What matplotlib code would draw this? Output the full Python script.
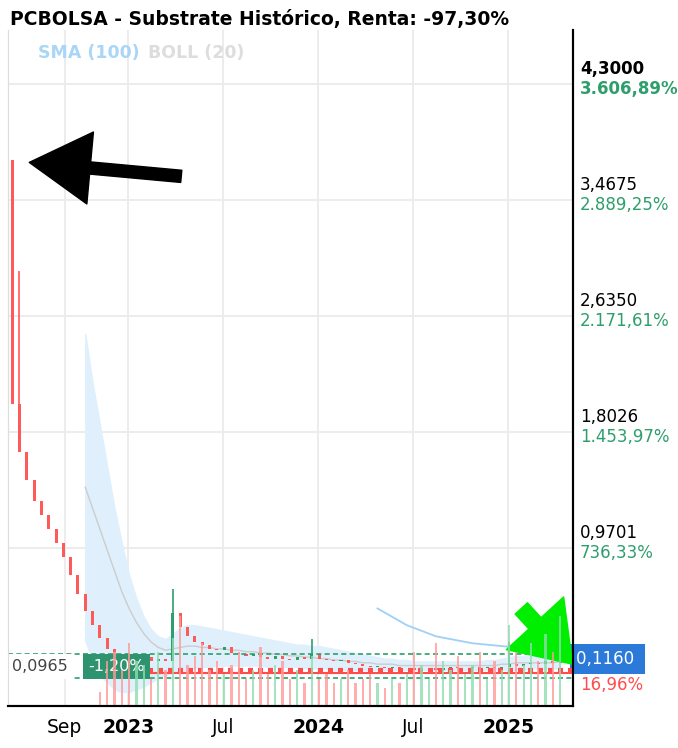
import numpy as np
import matplotlib.pyplot as plt
from matplotlib.transforms import blended_transform_factory

# biweekly candles, first open then closes
first_open = 3.70
closes = [1.95, 1.60, 1.40, 1.25, 1.15, 1.05, 0.95, 0.85, 0.72, 0.58,
          0.46, 0.36, 0.27, 0.19, 0.14, 0.11, 0.10, 0.11, 0.13, 0.10,
          0.12, 0.10, 0.45, 0.35, 0.28, 0.24, 0.22, 0.19, 0.18, 0.20,
          0.16, 0.15, 0.14, 0.15, 0.13, 0.12, 0.14, 0.12, 0.11, 0.13,
          0.12, 0.15, 0.12, 0.11, 0.10, 0.11, 0.09, 0.08, 0.07, 0.06,
          0.06, 0.05, 0.06, 0.05, 0.05, 0.04, 0.05, 0.05, 0.04, 0.05,
          0.06, 0.05, 0.05, 0.06, 0.05, 0.06, 0.05, 0.06, 0.08, 0.07,
          0.08, 0.09, 0.08, 0.10, 0.09, 0.116]
wick_highs = {0: 3.70, 1: 2.90, 22: 0.62, 41: 0.26, 68: 0.24, 75: 0.40}
volumes = [0, 0, 0, 0, 0, 0, 0, 0, 0, 0, 0, 0, 3, 10, 12, 8, 14, 10, 9, 6,
           12, 8, 15, 20, 9, 11, 14, 8, 10, 7, 9, 12, 6, 8, 13, 7, 9, 10,
           6, 8, 5, 11, 6, 7, 5, 6, 8, 5, 6, 7, 5, 4, 6, 5, 7, 12, 9, 6,
           14, 10, 8, 11, 7, 9, 12, 6, 10, 8, 18, 12, 9, 14, 10, 16, 12, 20]
boll_start = 10
boll_upper = [2.45, 2.10, 1.80, 1.50, 1.20, 0.95, 0.72, 0.55, 0.42, 0.33,
              0.28, 0.26, 0.30, 0.34, 0.36, 0.36, 0.35, 0.34, 0.33, 0.32,
              0.31, 0.30, 0.29, 0.28, 0.27, 0.26, 0.25, 0.24, 0.23, 0.22,
              0.22, 0.21, 0.21, 0.20, 0.19, 0.18, 0.17, 0.16, 0.15, 0.14,
              0.13, 0.12, 0.12, 0.11, 0.11, 0.10, 0.10, 0.10, 0.10, 0.10,
              0.10, 0.10, 0.10, 0.10, 0.10, 0.11, 0.11, 0.12, 0.13, 0.14,
              0.14, 0.14, 0.14, 0.14, 0.14, 0.15]
boll_lower = [0.25, 0.10, 0.00, -0.05, -0.10, -0.12, -0.12, -0.10, -0.08, -0.05,
              -0.02, 0.00, 0.02, 0.03, 0.04, 0.05, 0.06, 0.06, 0.07, 0.07,
              0.07, 0.07, 0.07, 0.07, 0.07, 0.06, 0.06, 0.06, 0.06, 0.06,
              0.05, 0.05, 0.05, 0.05, 0.04, 0.04, 0.04, 0.04, 0.04, 0.04,
              0.04, 0.04, 0.04, 0.04, 0.04, 0.04, 0.04, 0.04, 0.04, 0.04,
              0.04, 0.04, 0.04, 0.04, 0.04, 0.04, 0.04, 0.04, 0.04, 0.04,
              0.04, 0.05, 0.05, 0.05, 0.05, 0.05]
boll_mid = [1.35, 1.20, 1.05, 0.90, 0.75, 0.60, 0.48, 0.38, 0.30, 0.24,
            0.20, 0.18, 0.19, 0.20, 0.21, 0.21, 0.20, 0.20, 0.19, 0.19,
            0.18, 0.18, 0.17, 0.17, 0.16, 0.16, 0.15, 0.15, 0.14, 0.14,
            0.13, 0.13, 0.12, 0.12, 0.11, 0.11, 0.10, 0.10, 0.09, 0.09,
            0.08, 0.08, 0.08, 0.07, 0.07, 0.07, 0.07, 0.07, 0.07, 0.07,
            0.07, 0.07, 0.07, 0.07, 0.07, 0.07, 0.07, 0.08, 0.08, 0.09,
            0.09, 0.09, 0.09, 0.09, 0.09, 0.10]
sma_start = 50
sma = [0.48, 0.45, 0.42, 0.39, 0.36, 0.34, 0.32, 0.30, 0.28, 0.27, 0.26,
       0.25, 0.24, 0.23, 0.225, 0.22, 0.215, 0.21, 0.205, 0.20, 0.20,
       0.195, 0.195, 0.19, 0.19, 0.19]

price_ticks = [4.3000, 3.4675, 2.6350, 1.8026, 0.9701]
pct_labels = ['3.606,89%', '2.889,25%', '2.171,61%', '1.453,97%', '736,33%']
x_ticks = [2022.667, 2023.0, 2023.5, 2024.0, 2024.5, 2025.0]
x_labels = ['Sep', '2023', 'Jul', '2024', 'Jul', '2025']

W, H = 678, 748
fig = plt.figure(figsize=(W / 100, H / 100), dpi=100)
L, R, T, B = 8, 573, 30, 706
ax = fig.add_axes([L / W, 1 - B / H, (R - L) / W, (B - T) / H])

x0, step = 2022.39, 2 / 52
dates = x0 + step * np.arange(len(closes))
ax.set_xlim(2022.368, 2025.342)
ax.set_ylim(-0.22, 4.63)

for yv in price_ticks:
    ax.axhline(yv - 0.06, color='#ebebeb', lw=1.3, zorder=0)
for xv in x_ticks:
    ax.axvline(xv, color='#ebebeb', lw=1.3, zorder=0)

# volume on twin axis
axv = ax.twinx()
axv.set_ylim(0, 150)
n = min(len(volumes), len(dates))
for i in range(n):
    o = first_open if i == 0 else closes[i - 1]
    c = '#8fdcae' if closes[i] >= o else '#ff9a9a'
    axv.bar(dates[i], volumes[i], width=0.012, color=c, alpha=0.8, zorder=1)
axv.set_yticks([])

# bollinger
nb = min(len(boll_upper), len(boll_lower), len(boll_mid))
bx = dates[boll_start:boll_start + nb]
ax.fill_between(bx, boll_lower[:len(bx)], boll_upper[:len(bx)], color='#dff0fc', zorder=1)
ax.plot(bx, boll_mid[:len(bx)], color='#cccccc', lw=1, zorder=2)
sx = dates[sma_start:sma_start + len(sma)]
ax.plot(sx, sma[:len(sx)], color='#9fd0f5', lw=1.3, zorder=3)

# candles
for i in range(len(closes)):
    o = first_open if i == 0 else closes[i - 1]
    c = closes[i]
    col = '#2e9e6c' if c >= o else '#ff5a5a'
    lo, hi = min(o, c), max(o, c)
    ax.bar(dates[i], max(hi - lo, 0.006), bottom=lo, width=0.016, color=col, zorder=4)
    if i in wick_highs:
        ax.vlines(dates[i], hi, wick_highs[i], color=col, lw=1.2, zorder=4)

# level lines
ax.axhline(0.155, color='#2e9e6c', ls=(0, (3, 2)), lw=1.2, zorder=5)
ax.axhline(-0.02, color='#2e9e6c', ls=(0, (3, 2)), lw=1.2, zorder=5)
ax.hlines(0.04, 2023.0, 2025.342, color='#ff4d4d', lw=3, ls=(0, (1.2, 1.2)), zorder=5)
ax.hlines(0.02, 2023.0, 2025.342, color='#ff4d4d', lw=1.5, zorder=5)

ax.set_xticks([])
ax.set_yticks([])
for a in [ax, axv]:
    a.spines['top'].set_visible(False)
    a.spines['left'].set_color('#dddddd')
    a.spines['right'].set_color('black')
    a.spines['bottom'].set_color('black')
    a.spines['right'].set_linewidth(1.5)
    a.spines['bottom'].set_linewidth(1.5)

# arrows
a1 = ax.annotate('', xy=(2022.48, 3.68), xytext=(2023.28, 3.58),
                 arrowprops=dict(arrowstyle='simple,head_length=1.1,head_width=1.3,tail_width=0.22',
                                 color='black', mutation_scale=40, shrinkA=0, shrinkB=0), zorder=6)
a2 = ax.annotate('', xy=(2025.34, 0.08), xytext=(2025.07, 0.48), annotation_clip=False,
                 arrowprops=dict(arrowstyle='simple,head_length=1.0,head_width=1.4,tail_width=0.3',
                                 color='#00ee00', mutation_scale=40, shrinkA=0, shrinkB=0), zorder=6)
a2.arrow_patch.set_clip_on(False)

# text boxes on the left
ax.text(2022.39, 0.065, '0,0965', fontsize=11.5, color='#444444', va='center',
        bbox=dict(boxstyle='square,pad=0.3', fc='white', ec='none'), zorder=7)
ax.text(2022.79, 0.065, '-1,20%', fontsize=11.5, color='white', va='center',
        bbox=dict(boxstyle='square,pad=0.3', fc='#2e9470', ec='none'), zorder=7)

# right axis labels
tr = blended_transform_factory(ax.transAxes, ax.transData)
for yv, pl in zip(price_ticks, pct_labels):
    bold = yv == 4.3
    ax.text(1.012, yv + 0.05, f'{yv:.4f}'.replace('.', ','), transform=tr, fontsize=12,
            fontweight='bold' if bold else 'normal', va='center', clip_on=False)
    ax.text(1.012, yv - 0.09, pl, transform=tr, fontsize=12, color='#2e9e6c',
            fontweight='bold' if bold else 'normal', va='center', clip_on=False)
ax.text(1.012, -0.07, '16,96%', transform=tr, fontsize=12, color='#ff4d4d', va='center', clip_on=False)
ax.text(1.005, 0.116, '0,1160 ', transform=tr, fontsize=12, color='white', va='center', clip_on=False,
        bbox=dict(boxstyle='square,pad=0.35', fc='#2b7ad9', ec='none'))

for xv, lb in zip(x_ticks, x_labels):
    ax.text(xv, -0.018, lb, transform=blended_transform_factory(ax.transData, ax.transAxes),
            ha='center', va='top', fontsize=13.5, fontweight='bold' if lb[0] == '2' else 'normal')

fig.text(10 / W, 1 - 20 / H, 'PCBOLSA - Substrate Histórico, Renta: -97,30%', fontsize=13.5,
         fontweight='bold', va='center')
fig.text(38 / W, 1 - 53 / H, 'SMA (100)', fontsize=12.5, color='#a9d6f7', fontweight='bold', va='center')
fig.text(148 / W, 1 - 53 / H, 'BOLL (20)', fontsize=12.5, color='#dddddd', fontweight='bold', va='center')

fig.savefig('out.png', dpi=100)
